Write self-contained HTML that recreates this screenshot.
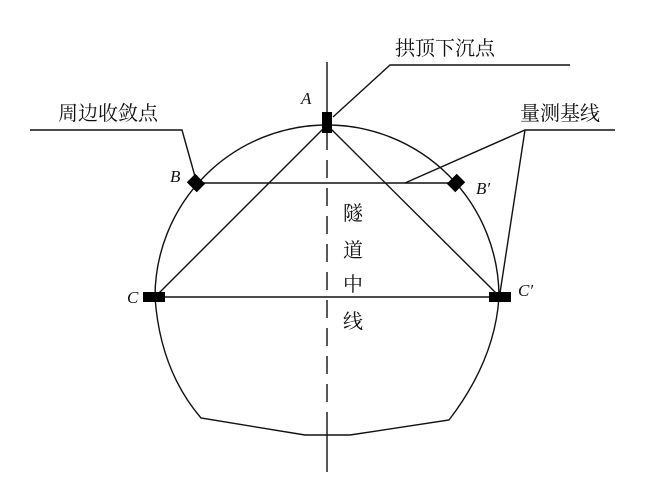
<!DOCTYPE html>
<html><head><meta charset="utf-8"><style>
html,body{margin:0;padding:0;background:#fff;}
svg{display:block}
text{font-family:"Liberation Serif","Noto Serif CJK SC",serif;fill:#111}
.cj{font-family:"Liberation Serif","Noto Serif CJK SC",serif;font-size:20px}
.it{font-style:italic;font-size:17px}
</style></head><body>
<svg width="646" height="483" viewBox="0 0 646 483" xmlns="http://www.w3.org/2000/svg">
<g stroke="#111" stroke-width="1.4" fill="none">
<path d="M155,297 A172,172 0 0 1 499,297"/>
<path d="M155,297 Q160,370 201,418 L305,435 L350,435 L449,420 Q495,360 499,297"/>
<line x1="327" y1="62" x2="327" y2="132"/>
<line x1="327" y1="132" x2="327" y2="430" stroke-dasharray="18,10"/>
<line x1="327" y1="430" x2="327" y2="472"/>
<line x1="196" y1="183" x2="456" y2="183"/>
<line x1="155" y1="297" x2="500" y2="297"/>
<line x1="327" y1="125" x2="155" y2="297"/>
<line x1="327" y1="125" x2="500" y2="297"/>
<polyline points="333,117 390,65 570,65"/>
<polyline points="30,130 182,130 196,180"/>
<polyline points="615,130 525,130 405,183"/>
<line x1="525" y1="130" x2="500" y2="293"/>
</g>
<g fill="#000">
<rect x="322" y="112" width="10" height="21"/>
<rect x="189" y="177" width="14" height="12" transform="rotate(45 196 183)"/>
<rect x="449" y="177" width="14" height="12" transform="rotate(-45 456 183)"/>
<rect x="143" y="292" width="22" height="10"/>
<rect x="489" y="292" width="22" height="10"/>
</g>
<text class="cj" x="395" y="55">拱顶下沉点</text>
<text class="cj" x="58" y="120">周边收敛点</text>
<text class="cj" x="520" y="120">量测基线</text>
<text class="it" x="301" y="104">A</text>
<text class="it" x="170" y="182">B</text>
<text class="it" x="476" y="194">B′</text>
<text class="it" x="127" y="303">C</text>
<text class="it" x="518" y="296">C′</text>
<text class="cj" x="343" y="220">隧</text>
<text class="cj" x="343" y="257">道</text>
<text class="cj" x="343" y="291">中</text>
<text class="cj" x="343" y="328">线</text>
</svg>
</body></html>
